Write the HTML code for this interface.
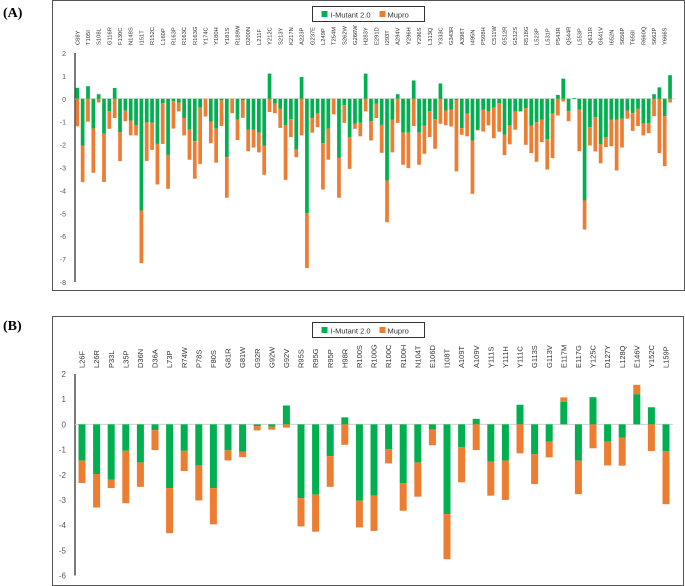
<!DOCTYPE html>
<html><head><meta charset="utf-8">
<style>
html,body{margin:0;padding:0;background:#fff;width:685px;height:586px;overflow:hidden}
svg{display:block;font-family:"Liberation Sans",sans-serif}
</style></head>
<body>
<svg id="chart" width="685" height="586" viewBox="0 0 685 586">
<text x="3" y="17" font-family="Liberation Serif" font-weight="bold" font-size="14">(A)</text>
<text x="3" y="330" font-family="Liberation Serif" font-weight="bold" font-size="14">(B)</text>
<rect x="52.5" y="0.5" width="632" height="290" fill="none" stroke="#555"/>
<rect x="52.5" y="316.5" width="631" height="269" fill="none" stroke="#555"/>
<g id="ga"></g><g id="gb"></g>
</svg>
<script>
const catsA = ["C88Y","","T105I","","S108L","","G116R","","F130C","","N148S","","I151T","","R152C","","L160P","","R163P","","R163C","","R163G","","Y174C","","Y180H","","Y181S","","R189W","","D200N","","L211F","","Y212C","","S213Y","","K217N","","A223P","","G237E","","L249P","","T254M","","S262W","","G266W","","H283Y","","E291D","","I293T","","A294V","","Y296H","","Y296S","","L313Q","","Y333C","","G343R","","A398T","","I495N","","P508H","","C511W","","G512R","","G512S","","R518G","","L523P","","L531P","","P543R","","Q544R","","L553P","","Q611R","","G641V","","I652N","","S656P","","T658I","","R660Q","","S662P","","Y666S",""];
const imutA = [0.48,-2.04,0.55,-1.3,0.2,-1.53,-0.54,0.47,-1.46,-0.52,-0.95,-1.16,-4.88,-1.03,-1.05,-1.97,-0.19,-2.45,-0.1,-0.16,-0.84,-1.35,-1.85,-0.39,0,-0.99,-1.31,-0.07,-2.55,0,-0.9,-0.07,-1.34,-1.34,-1.48,-2.04,1.1,-0.2,-0.44,-1.16,-0.89,-2.21,0.95,-4.99,-0.84,-0.65,-1.94,-1.3,0,-2.58,-0.28,-1.67,-1.08,-1.05,1.1,-0.98,-0.22,-1.14,-3.57,-0.92,0.2,-1.48,-1.48,0.8,-1.48,-1.18,-0.54,-0.89,0.67,-0.51,-0.47,-0.05,-1.28,-0.65,-1.82,-1.34,-0.48,-0.55,-0.39,-0.19,-1.57,-1.16,-0.55,-0.55,-0.41,-1.18,-1.02,-0.92,-1.76,-0.65,0.17,0.88,-0.54,0.03,-0.48,-4.44,-1.24,-0.8,-1.99,-1.67,-0.92,-0.92,-0.87,-0.51,-0.63,-0.44,-1.09,-1.06,0.2,0.5,-0.76,1.03];
const muproA = [-1.2,-1.6,-1.0,-1.93,-0.16,-2.1,-0.77,-0.84,-1.26,-0.46,-0.65,-0.44,-2.3,-1.69,-1.18,-1.77,-1.78,-1.48,-1.2,-0.39,-0.76,-1.31,-1.64,-2.45,-0.77,-0.95,-1.48,-1.12,-1.77,-0.63,-0.9,-0.76,-0.95,-0.79,-0.86,-1.28,-0.58,-0.43,-0.83,-2.38,-0.78,-0.34,-1.6,-2.4,-0.64,-0.59,-2.02,-1.36,-0.68,-1.74,-0.77,-1.39,-0.23,-0.59,-0.55,-0.84,-0.62,-1.22,-1.82,-1.42,-1.05,-1.4,-1.55,-1.19,-1.4,-1.22,-1.13,-1.29,-1.09,-0.65,-0.74,-3.12,-0.29,-0.99,-2.33,-0.04,-0.95,-0.61,-1.33,-1.25,-0.89,-0.83,-0.8,0,-1.6,-1.19,-1.73,-0.97,-1.33,-1.94,-0.73,-0.12,-0.44,0,-1.81,-1.27,-0.8,-1.5,-0.83,-0.44,-1.15,-2.21,-1.26,-0.36,-0.77,-0.75,-0.51,-0.44,-0.76,-2.37,-2.18,-0.16];
const ticksA = [2,1,0,-1,-2,-3,-4,-5,-6,-7,-8];

const catsB = ["L26F","L26R","P33L","L35P","D36N","D36A","L73P","R74W","P78S","F80S","G81R","G81W","G92R","G92W","G92V","R95S","R95G","R95P","H98R","R100S","R100G","R100C","R100H","N104T","E106D","I108T","A109T","A109V","Y111S","Y111H","Y111C","G113S","G113V","E117M","E117G","Y125C","D127Y","L128Q","E146V","Y152C","L159P"];
const imutB = [-1.44,-1.97,-2.2,-1.05,-1.51,-0.23,-2.53,-1.05,-1.64,-2.53,-1.03,-1.09,-0.07,-0.09,0.75,-2.93,-2.79,-1.26,0.28,-3.03,-2.83,-0.98,-2.33,-1.51,-0.2,-3.56,-0.91,0.22,-1.48,-1.44,0.78,-1.18,-0.69,0.9,-1.44,1.08,-0.69,-0.52,1.2,0.68,-1.07];
const muproB = [-0.89,-1.33,-0.33,-2.08,-0.97,-0.79,-1.79,-0.8,-1.38,-1.44,-0.4,-0.21,-0.17,-0.12,-0.13,-1.12,-1.47,-1.22,-0.81,-1.06,-1.4,-0.57,-1.1,-1.36,-0.63,-1.79,-1.39,-1.02,-1.35,-1.56,-1.15,-1.19,-0.62,0.17,-1.33,-0.95,-0.94,-1.12,0.37,-1.06,-2.1];
const ticksB = [2,1,0,-1,-2,-3,-4,-5,-6];

const NS="http://www.w3.org/2000/svg";
function mk(parent,tag,attrs){const e=document.createElementNS(NS,tag);for(const k in attrs)e.setAttribute(k,attrs[k]);parent.appendChild(e);return e;}

function drawPanel(g,cats,s1,s2,ticks,cfg){
  const yMax=ticks[0], yMin=ticks[ticks.length-1];
  const y=v=>cfg.top+(yMax-v)/(yMax-yMin)*(cfg.bottom-cfg.top);
  const x=i=>cfg.x0+i*cfg.step;
  // ticks
  ticks.forEach(t=>{
    const tx=mk(g,'text',{x:cfg.axisX-9,y:y(t)+3,'text-anchor':'end','font-size':cfg.tickFont,fill:'#555'});
    tx.textContent=t;
    
    
  });
  const ax=mk(g,'line',{x1:cfg.axisX,x2:cfg.axisX,y1:y(yMax),y2:y(yMin),stroke:'#333','stroke-width':1.3});
  
  
  const zl=mk(g,'line',{x1:cfg.axisX,x2:cfg.zeroEnd,y1:y(0),y2:y(0),stroke:'#d0d0d0','stroke-width':1});
  
  
  cats.forEach((c,i)=>{
    let pos=0,neg=0;
    [[s1[i],'#00b050','imutant-bar'],[s2[i],'#ed7d31','mupro-bar']].forEach(([v,col,nm])=>{
      if(!v)return;
      let a,b;
      if(v>0){a=pos;b=pos+v;pos=b;}else{a=neg;b=neg+v;neg=b;}
      const r=mk(g,'rect',{x:x(i)-cfg.bw/2,y:Math.min(y(a),y(b)),width:cfg.bw,height:Math.abs(y(a)-y(b)),fill:col});
      
      
    });
    if(c){
      const t=mk(g,'text',{x:0,y:0,'font-size':cfg.catFont,fill:'#333',transform:`translate(${x(i)+cfg.catFont*0.35},${cfg.labelBottom}) rotate(-90)`});
      t.textContent=c;
      
      
    }
  });
  // legend
  const L=cfg.legend;
  const lg=mk(g,'g',{});
  
  
  mk(lg,'rect',{x:L.x,y:L.y,width:112,height:15,fill:'#fff',stroke:'#333','stroke-width':1});
  mk(lg,'rect',{x:L.x+9,y:L.y+4.5,width:6,height:6,fill:'#00b050'});
  const t1=mk(lg,'text',{x:L.x+18,y:L.y+11,'font-size':7.5,fill:'#333'});t1.textContent='I-Mutant 2.0';
  
  
  mk(lg,'rect',{x:L.x+67,y:L.y+4.5,width:6,height:6,fill:'#ed7d31'});
  const t2=mk(lg,'text',{x:L.x+75,y:L.y+11,'font-size':7.5,fill:'#333'});t2.textContent='Mupro';
  
  
}
const ga=document.getElementById('ga');


drawPanel(ga,catsA,imutA,muproA,ticksA,{top:53,bottom:282,x0:77.3,step:5.34,bw:3.7,axisX:75,zeroEnd:675,tickFont:7,catFont:5.8,labelBottom:45,legend:{x:312.5,y:6.5}});
const gb=document.getElementById('gb');


drawPanel(gb,catsB,imutB,muproB,ticksB,{top:374,bottom:575.5,x0:82,step:14.6,bw:7,axisX:75,zeroEnd:673,tickFont:8,catFont:7.5,labelBottom:368,legend:{x:312.5,y:322.5}});
</script>
</body></html>
